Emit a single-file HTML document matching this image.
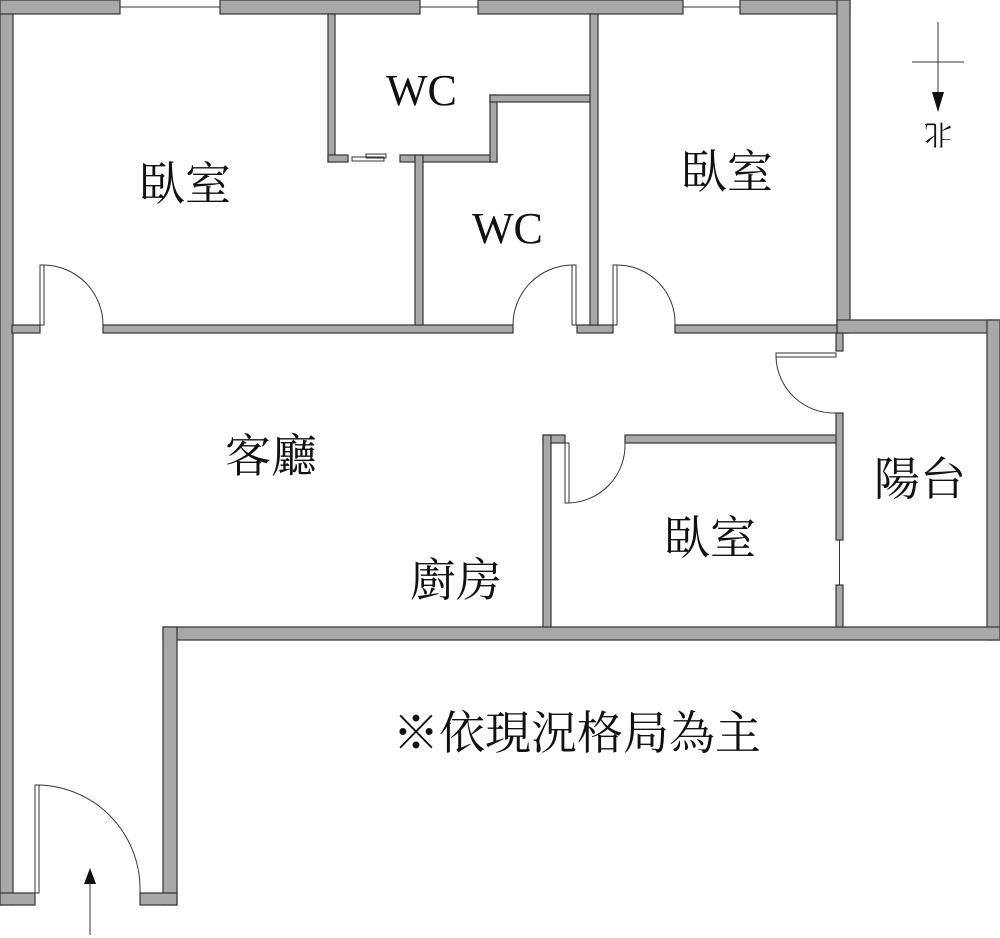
<!DOCTYPE html>
<html><head><meta charset="utf-8"><style>
html,body{margin:0;padding:0;background:#fff;width:1000px;height:938px;overflow:hidden}
text{font-family:"Liberation Serif","Noto Serif CJK SC","Noto Sans CJK TC",serif;fill:#111}
</style></head><body>
<svg width="1000" height="938" viewBox="0 0 1000 938" xmlns="http://www.w3.org/2000/svg">
<g fill="#a8a8a8" stroke="#333" stroke-width="1.2">
<rect x="0" y="0" width="13" height="905"/>
<rect x="0" y="0" width="120" height="14"/>
<rect x="220" y="0" width="200" height="14"/>
<rect x="478" y="0" width="205" height="14"/>
<rect x="740" y="0" width="110" height="14"/>
<rect x="837" y="0" width="13" height="333"/>
<rect x="837" y="320" width="163" height="13"/>
<rect x="987" y="320" width="13" height="320"/>
<rect x="163" y="627" width="837" height="13"/>
<rect x="163" y="627" width="14" height="278"/>
<rect x="0" y="893" width="35" height="12"/>
<rect x="140" y="893" width="37" height="12"/>
<rect x="12" y="325" width="28" height="8"/>
<rect x="103" y="325" width="410" height="8"/>
<rect x="577" y="325" width="36" height="8"/>
<rect x="675" y="325" width="162" height="8"/>
<rect x="328" y="14" width="7" height="148"/>
<rect x="328" y="155" width="20" height="7"/>
<rect x="400" y="155" width="97" height="7"/>
<rect x="415" y="155" width="8" height="170"/>
<rect x="490" y="95" width="7" height="67"/>
<rect x="490" y="95" width="102" height="7"/>
<rect x="590" y="14" width="8" height="311"/>
<rect x="543" y="435" width="22" height="8"/>
<rect x="625" y="435" width="212" height="8"/>
<rect x="543" y="435" width="8" height="192"/>
<rect x="836" y="333" width="7" height="18"/>
<rect x="836" y="413" width="7" height="127"/>
<rect x="836" y="585" width="7" height="42"/>
</g>
<g fill="none" stroke="#333" stroke-width="1">
<line x1="120" y1="7" x2="220" y2="7"/><line x1="420" y1="7" x2="478" y2="7"/><line x1="683" y1="7" x2="740" y2="7"/>
<line x1="839.5" y1="540" x2="839.5" y2="585"/>
<rect x="40" y="265" width="4" height="60"/><path d="M44 265 A60 60 0 0 1 103 325"/>
<rect x="572" y="265" width="4" height="60"/><path d="M572 265 A60 60 0 0 0 513 325"/>
<rect x="613" y="265" width="4" height="60"/><path d="M617 265 A58 58 0 0 1 675 325"/>
<rect x="776" y="353" width="60" height="4"/><path d="M776 357 A58 58 0 0 0 836 413"/>
<rect x="565" y="443" width="4" height="60"/><path d="M569 503 A58 58 0 0 0 625 443"/>
<rect x="35" y="785" width="4" height="108"/><path d="M39 785 A104 104 0 0 1 140 893"/>
<rect x="352" y="157" width="32" height="4"/><rect x="366" y="154" width="20" height="4"/>
<line x1="90" y1="935" x2="90" y2="875"/>
<line x1="938" y1="22" x2="938" y2="105"/><line x1="912" y1="62" x2="964" y2="62"/>
</g>
<path d="M90 868 L84 884 L96 884 Z" fill="#111"/>
<path d="M938 112 L932 92 L944 92 Z" fill="#111"/>
<g font-size="46">
<text x="139" y="200">臥室</text>
<text x="386" y="105" font-size="44">WC</text>
<text x="472" y="243" font-size="44">WC</text>
<text x="681" y="188">臥室</text>
<text x="225" y="472">客廳</text>
<text x="874" y="495">陽台</text>
<text x="664" y="554">臥室</text>
<text x="410" y="596">廚房</text>
<text x="393" y="749">※依現況格局為主</text>
</g>
<text x="938" y="135" font-size="28" text-anchor="middle" transform="rotate(180 938 135)" dy="10">北</text>
</svg>
</body></html>
